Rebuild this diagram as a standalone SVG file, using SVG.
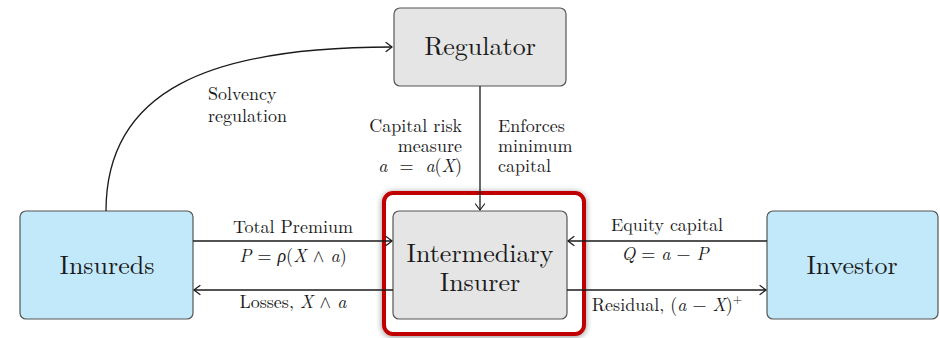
<svg xmlns="http://www.w3.org/2000/svg" width="940" height="338" viewBox="0 0 940 338">
<defs>
<marker id="arr" markerUnits="userSpaceOnUse" markerWidth="14" markerHeight="14" viewBox="-10 -7 14 14" refX="0" refY="0" orient="auto">
<path d="M-6,-4.5 Q-1.5,-1.2 0,0 Q-1.5,1.2 -6,4.5" fill="none" stroke="#1a1a1a" stroke-width="1.2" stroke-linecap="round"/>
</marker>
<filter id="shadow" x="-10%" y="-10%" width="120%" height="120%">
<feGaussianBlur in="SourceAlpha" stdDeviation="3"/>
<feOffset dx="0" dy="1" result="b"/>
<feComponentTransfer><feFuncA type="linear" slope="0.45"/></feComponentTransfer>
<feMerge><feMergeNode/><feMergeNode in="SourceGraphic"/></feMerge>
</filter>
</defs>
<style>
.big{font-size:26px;text-anchor:middle}
.lbl{font-size:18px}
.mid{text-anchor:middle}
.end{text-anchor:end}
.it{font-style:italic}
.gray{fill:#e5e5e5;stroke:#555;stroke-width:1.2}
.blue{fill:#c2e9fa;stroke:#555;stroke-width:1.2}
.conn{fill:none;stroke:#1a1a1a;stroke-width:1.3}
</style>
<rect width="940" height="338" fill="#fff"/>

<g font-family="Latin Modern Roman, Liberation Serif, serif" fill="#1a1a1a">
<g id="highlight">
<rect x="384" y="193" width="200" height="141" rx="9" fill="#fff" stroke="#c00000" stroke-width="4" filter="url(#shadow)"/>
</g>

<g id="regulator">
<rect class="gray" x="394" y="8" width="172" height="78" rx="6"/>
<text class="big" x="480" y="55">Regulator</text>
</g>

<g id="intermediary">
<rect class="gray" x="393" y="211" width="174" height="108" rx="6"/>
<text class="big" x="480" y="262">Intermediary</text>
<text class="big" x="480" y="291">Insurer</text>
</g>

<g id="insureds">
<rect class="blue" x="20" y="211" width="173" height="108" rx="6"/>
<text class="big" x="107" y="274">Insureds</text>
</g>

<g id="investor">
<rect class="blue" x="767" y="211" width="171" height="108" rx="6"/>
<text class="big" x="852" y="274">Investor</text>
</g>

<g id="connectors">
<path class="conn" d="M106,211 C106,90 210,47 392,47" marker-end="url(#arr)"/>
<path class="conn" d="M480,86 L480,210" marker-end="url(#arr)"/>
<path class="conn" d="M193,241 L392,241" marker-end="url(#arr)"/>
<path class="conn" d="M393,290 L194,290" marker-end="url(#arr)"/>
<path class="conn" d="M767,241 L568,241" marker-end="url(#arr)"/>
<path class="conn" d="M567,290 L766,290" marker-end="url(#arr)"/>
</g>

<g id="labels">
<text class="lbl" x="208" y="100">Solvency</text>
<text class="lbl" x="208" y="122">regulation</text>

<text class="lbl end" x="462" y="132">Capital risk</text>
<text class="lbl end" x="462" y="152">measure</text>
<text class="lbl end" x="462" y="172" xml:space="preserve"><tspan class="it">a</tspan>  =  <tspan class="it">a</tspan>(<tspan class="it">X</tspan>)</text>

<text class="lbl" x="498" y="132">Enforces</text>
<text class="lbl" x="498" y="152">minimum</text>
<text class="lbl" x="498" y="172">capital</text>

<text class="lbl mid" x="293" y="233">Total Premium</text>
<text class="lbl mid" x="293" y="262"><tspan class="it">P</tspan> = <tspan class="it">ρ</tspan>(<tspan class="it">X</tspan> <tspan font-family="Latin Modern Math, DejaVu Serif, serif">∧</tspan> <tspan class="it">a</tspan>)</text>
<text class="lbl mid" x="293" y="308">Losses, <tspan class="it">X</tspan> <tspan font-family="Latin Modern Math, DejaVu Serif, serif">∧</tspan> <tspan class="it">a</tspan></text>

<text class="lbl mid" x="667" y="231">Equity capital</text>
<text class="lbl mid" x="665" y="260"><tspan class="it">Q</tspan> = <tspan class="it">a</tspan> − <tspan class="it">P</tspan></text>
<text class="lbl mid" x="667" y="311">Residual, (<tspan class="it">a</tspan> − <tspan class="it">X</tspan>)<tspan font-size="12" dy="-8">+</tspan></text>
</g>
</g>
</svg>
